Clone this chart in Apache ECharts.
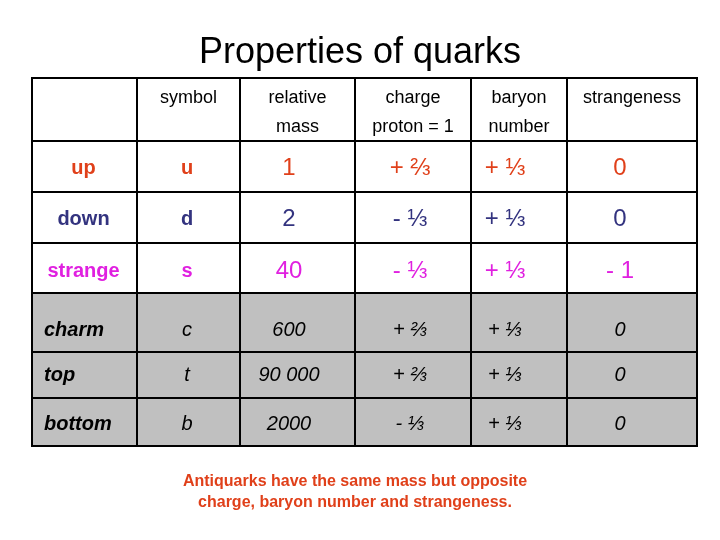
<!DOCTYPE html>
<html><head><meta charset="utf-8">
<script src="https://cdn.jsdelivr.net/npm/echarts@6/dist/echarts.min.js"></script>
<style>html,body{margin:0;padding:0;background:#fff}#c{width:720px;height:540px}</style>
</head><body><div id="c"></div>
<script>
const headers = ['', 'symbol', 'relative\nmass', 'charge\nproton = 1', 'baryon\nnumber', 'strangeness'];
const names = ['up', 'down', 'strange', 'charm', 'top', 'bottom'];
const symbols = ['u', 'd', 's', 'c', 't', 'b'];
const masses = ['1', '2', '40', '600', '90 000', '2000'];
const charges = ['+ ⅔', '- ⅓', '- ⅓', '+ ⅔', '+ ⅔', '- ⅓'];
const baryons = ['+ ⅓', '+ ⅓', '+ ⅓', '+ ⅓', '+ ⅓', '+ ⅓'];
const strangeness = ['0', '0', '- 1', '0', '0', '0'];

// layout (table units)
const colEdges = [0, 105, 208, 323, 439, 535, 665];
const rowEdges = [0, 63, 114, 165, 215, 274, 320, 368];
const textX = [null, 155, 257, 378, 473, 588];
const rowYOffset = [2, 2, 3, 8, 0, 2];
const rowColors = ['#E0401A', '#33337F', '#E020E0', '#000', '#000', '#000'];

const cols = [names, symbols, masses, charges, baryons, strangeness];
const cells = [];
for (let c = 0; c < 6; c++) cells.push([c, 0, headers[c]]);
for (let r = 0; r < 6; r++) for (let c = 0; c < 6; c++) cells.push([c, r + 1, cols[c][r]]);

const chart = echarts.init(document.getElementById('c'));
chart.setOption({
  animation: false,
  title: [{text: 'Properties of quarks', left: 'center', top: 30,
    textStyle: {fontFamily: 'Liberation Sans', fontSize: 36, fontWeight: 'normal', color: '#000'}},
    {text: 'Antiquarks have the same mass but opposite\ncharge, baryon number and strangeness.', left: 350, textAlign: 'center', top: 466,
    textStyle: {fontFamily: 'Liberation Sans', fontSize: 16, fontWeight: 'bold', color: '#E0401A', lineHeight: 21}}],
  grid: {left: 32, top: 78, width: 665, height: 368},
  xAxis: {type: 'value', min: 0, max: 665, show: false},
  yAxis: {type: 'value', min: 0, max: 368, inverse: true, show: false},
  series: [{
    type: 'custom',
    data: cells,
    renderItem: function (params, api) {
      const c = api.value(0), r = api.value(1), t = cells[params.dataIndex][2];
      const p0 = api.coord([colEdges[c], rowEdges[r]]);
      const p1 = api.coord([colEdges[c + 1], rowEdges[r + 1]]);
      const gray = r >= 4;
      const children = [{type: 'rect', shape: {x: p0[0], y: p0[1], width: p1[0] - p0[0], height: p1[1] - p0[1]},
        style: {fill: gray ? '#C0C0C0' : '#fff', stroke: '#000', lineWidth: 2}}];
      let x, y, align = 'center', font;
      if (r === 0) {
        x = (p0[0] + p1[0]) / 2; y = p0[1] + 6;
        children.push({type: 'text', style: {text: t, x: x, y: y, align: 'center', verticalAlign: 'top',
          font: '18px "Liberation Sans"', lineHeight: 29, fill: '#000'}});
        return {type: 'group', children: children};
      }
      y = (p0[1] + p1[1]) / 2 + rowYOffset[r - 1];
      const color = rowColors[r - 1];
      if (c === 0) {
        if (gray) { x = p0[0] + 12; align = 'left'; font = 'italic bold 20px "Liberation Sans"'; }
        else { x = (p0[0] + p1[0]) / 2 - 1; font = 'bold 20px "Liberation Sans"'; }
      } else {
        x = api.coord([textX[c], 0])[0];
        if (gray) font = 'italic 20px "Liberation Sans"';
        else font = (c === 1 ? 'bold 20px' : '24px') + ' "Liberation Sans"';
      }
      children.push({type: 'text', style: {text: t, x: x, y: y, align: align, verticalAlign: 'middle', font: font, fill: color}});
      return {type: 'group', children: children};
    }
  }]
});
</script></body></html>
